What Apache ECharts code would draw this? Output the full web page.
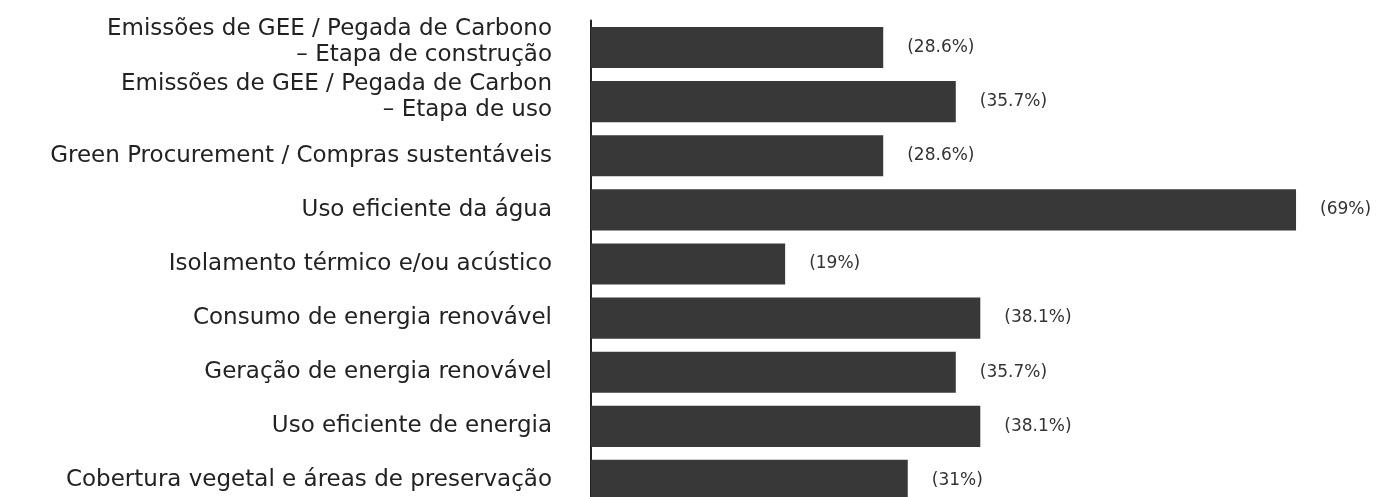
<!DOCTYPE html>
<html><head><meta charset="utf-8">
<script src="https://cdn.jsdelivr.net/npm/echarts@6/dist/echarts.min.js"></script>
<style>html,body{margin:0;padding:0;background:#fff;overflow:hidden}#c{width:1394px;height:520px}</style>
</head><body><div id="c"></div>
<script>
const categories = [
  "Emissões de GEE / Pegada de Carbono\n– Etapa de construção",
  "Emissões de GEE / Pegada de Carbon\n– Etapa de uso",
  "Green Procurement / Compras sustentáveis",
  "Uso eficiente da água",
  "Isolamento térmico e/ou acústico",
  "Consumo de energia renovável",
  "Geração de energia renovável",
  "Uso eficiente de energia",
  "Cobertura vegetal e áreas de preservação"
];
const values = [28.6, 35.7, 28.6, 69, 19, 38.1, 35.7, 38.1, 31];

const chart = echarts.init(document.getElementById('c'), null, {renderer: 'canvas'});
chart.setOption({
  animation: false,
  grid: {left: 591, top: 20.4, height: 487.1, right: 6, containLabel: false},
  xAxis: {type: 'value', min: 0, max: 78, show: false},
  yAxis: {
    type: 'category', data: categories, inverse: true,
    axisLine: {show: true, lineStyle: {color: '#222', width: 2}},
    axisTick: {show: false},
    axisLabel: {
      interval: 0, hideOverlap: false,
      margin: 39, color: '#222', fontFamily: 'DejaVu Sans', fontSize: 23, lineHeight: 26, align: 'right',
      formatter: v => v.indexOf('\n') >= 0
        ? v.split('\n').map(l => '{t|' + l + '}').join('\n') + '\n{s| }'
        : v,
      rich: {
        t: {color: '#222', fontFamily: 'DejaVu Sans', fontSize: 23, lineHeight: 26},
        s: {fontSize: 6, lineHeight: 10}
      }
    }
  },
  series: [{
    type: 'bar', data: values, barCategoryGap: '24%',
    itemStyle: {color: '#383838'},
    label: {
      show: true, position: 'right', distance: 24, color: '#333',
      fontFamily: 'DejaVu Sans', fontSize: 17,
      formatter: p => '(' + p.value + '%)'
    }
  }]
});
</script></body></html>
